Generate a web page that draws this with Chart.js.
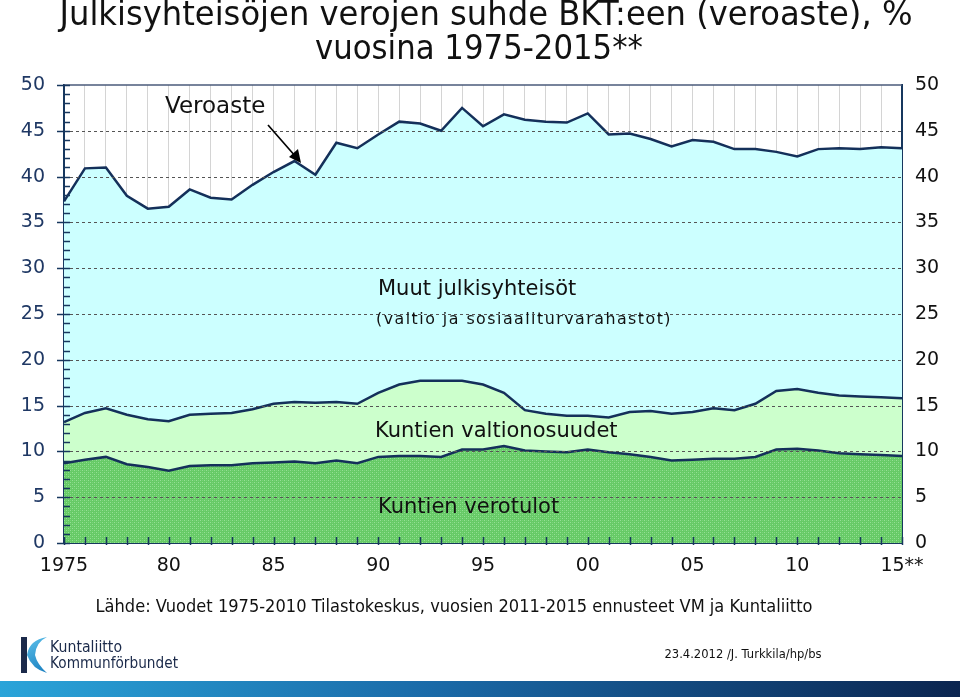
<!DOCTYPE html>
<html>
<head>
<meta charset="utf-8">
<script src="https://cdn.jsdelivr.net/npm/chart.js@4"></script>
<style>
  html, body { margin: 0; padding: 0; background: #fff; }
  #wrap { width: 960px; height: 697px; position: relative; }
</style>
</head>
<body>
<div id="wrap"><canvas id="chart" width="960" height="697"></canvas></div>
<script>
// years 1975-2015, % of GDP
const years = [];
for (let y = 1975; y <= 2015; y++) years.push(String(y));

const xTickLabels = ["1975", "80", "85", "90", "95", "00", "05", "10", "15**"];
const yTickLabels = [0, 5, 10, 15, 20, 25, 30, 35, 40, 45, 50];

// Kuntien verotulot
const verotulot = [8.7, 9.1, 9.4, 8.6, 8.3, 7.9, 8.4, 8.5, 8.5, 8.7,
  8.8, 8.9, 8.7, 9.0, 8.7, 9.4, 9.5, 9.5, 9.4, 10.2,
  10.2, 10.6, 10.1, 10.0, 9.9, 10.2, 9.9, 9.7, 9.4, 9.0,
  9.1, 9.2, 9.2, 9.4, 10.2, 10.3, 10.1, 9.8, 9.7, 9.6, 9.5];

// Kuntien valtionosuudet
const valtionosuudet = [4.5, 5.1, 5.3, 5.4, 5.2, 5.4, 5.6, 5.6, 5.7, 5.9,
  6.4, 6.5, 6.6, 6.4, 6.5, 7.0, 7.8, 8.2, 8.3, 7.5,
  7.1, 5.8, 4.4, 4.1, 4.0, 3.7, 3.8, 4.6, 5.0, 5.1,
  5.2, 5.5, 5.3, 5.8, 6.4, 6.5, 6.3, 6.3, 6.3, 6.3, 6.3];

// Muut julkisyhteisöt (valtio ja sosiaaliturvarahastot)
const muut = [24.1, 26.7, 26.3, 23.9, 23.0, 23.4, 24.6, 23.6, 23.3, 24.5,
  25.3, 26.3, 24.9, 28.3, 27.9, 28.2, 28.7, 28.1, 27.3, 29.8,
  28.2, 30.4, 31.7, 31.9, 32.0, 33.0, 30.9, 30.4, 29.7, 29.2,
  29.7, 29.1, 28.5, 27.8, 26.1, 25.4, 26.6, 27.0, 27.0, 27.3, 27.3];

const NAVY = "#14305a";
const AXIS = "#17375e";
const FONT = "'DejaVu Sans', Verdana, sans-serif";

// dotted texture for the dark green area
function greenPattern() {
  const c = document.createElement("canvas");
  c.width = 4; c.height = 4;
  const g = c.getContext("2d");
  g.fillStyle = "#66ca66";
  g.fillRect(0, 0, 4, 4);
  g.fillStyle = "#95e095";
  g.fillRect(0, 0, 1, 1);
  g.fillRect(2, 2, 1, 1);
  g.fillStyle = "#78d478";
  g.fillRect(2, 0, 1, 1);
  g.fillRect(0, 2, 1, 1);
  return g.createPattern(c, "repeat");
}

const ctx = document.getElementById("chart").getContext("2d");

const decorations = {
  id: "decorations",
  afterDatasetsDraw(chart) {
    const c = chart.ctx;
    const area = chart.chartArea;
    const y = chart.scales.y;
    const x = chart.scales.x;
    c.save();
    // dashed horizontal lines
    c.strokeStyle = "#555";
    c.lineWidth = 1;
    c.setLineDash([3, 3]);
    for (let v = 5; v < 50; v += 5) {
      const py = Math.round(y.getPixelForValue(v)) + 0.5;
      c.beginPath();
      c.moveTo(area.left, py);
      c.lineTo(area.right, py);
      c.stroke();
    }
    c.setLineDash([]);
    // top border
    c.strokeStyle = "#4a5a7a";
    c.lineWidth = 1.5;
    c.beginPath();
    c.moveTo(area.left, area.top);
    c.lineTo(area.right, area.top);
    c.stroke();
    // y ticks
    c.strokeStyle = AXIS;
    c.lineWidth = 1.5;
    for (let v = 0; v <= 50; v++) {
      const py = Math.round(y.getPixelForValue(v)) + 0.5;
      c.beginPath();
      if (v % 5 === 0) {
        c.moveTo(area.left - 7, py);
      } else {
        c.moveTo(area.left, py);
      }
      c.lineTo(area.left + 6, py);
      c.stroke();
    }
    // x ticks
    for (let i = 0; i < years.length; i++) {
      const px = Math.round(x.getPixelForValue(i)) + 0.5;
      c.beginPath();
      c.moveTo(px, area.bottom - 6);
      c.lineTo(px, area.bottom + 2);
      c.stroke();
    }
    c.restore();
  },
  afterDraw(chart) {
    const c = chart.ctx;
    c.save();
    c.fillStyle = "#111";
    c.textBaseline = "middle";
    // title
    c.textAlign = "center";
    c.font = "34px " + FONT;
    c.fillText("Julkisyhteisöjen verojen suhde BKT:een (veroaste), %", 486, 16, 853);
    c.fillText("vuosina 1975-2015**", 479, 50, 328);

    // area labels
    c.textAlign = "left";
    c.font = "23px " + FONT;
    c.fillText("Veroaste", 165, 107, 106);
    c.font = "21px " + FONT;
    c.fillText("Muut julkisyhteisöt", 378, 290, 214);
    c.fillText("Kuntien valtionosuudet", 375, 432, 262);
    c.fillText("Kuntien verotulot", 378, 508, 199);
    c.font = "16px " + FONT;
    c.letterSpacing = "1.5px";
    c.fillText("(valtio ja sosiaaliturvarahastot)", 376, 320, 296);
    c.letterSpacing = "0px";

    // arrow
    c.strokeStyle = "#000";
    c.lineWidth = 1.6;
    c.beginPath();
    c.moveTo(268, 125);
    c.lineTo(296, 157);
    c.stroke();
    c.fillStyle = "#000";
    c.beginPath();
    c.moveTo(301, 163);
    c.lineTo(289, 157);
    c.lineTo(298, 149);
    c.closePath();
    c.fill();

    // source
    c.fillStyle = "#111";
    c.textAlign = "center";
    c.font = "17px " + FONT;
    c.fillText("Lähde: Vuodet 1975-2010 Tilastokeskus, vuosien 2011-2015 ennusteet VM ja Kuntaliitto", 454, 608, 717);
    c.font = "12px " + FONT;
    c.fillText("23.4.2012 /J. Turkkila/hp/bs", 743, 655, 157);

    // logo
    c.fillStyle = "#1b2a4a";
    c.fillRect(21, 637, 6, 36);
    const sw = c.createLinearGradient(27, 637, 46, 673);
    sw.addColorStop(0, "#5cc0ea");
    sw.addColorStop(1, "#1a7fc0");
    c.fillStyle = sw;
    c.beginPath();
    c.moveTo(47, 637);
    c.quadraticCurveTo(29, 640, 27, 655);
    c.quadraticCurveTo(32, 669, 47, 673);
    c.quadraticCurveTo(37, 664, 35, 655);
    c.quadraticCurveTo(36, 642, 47, 637);
    c.fill();
    c.fillStyle = "#1b2a4a";
    c.textAlign = "left";
    c.font = "15px " + FONT;
    c.fillText("Kuntaliitto", 50, 648, 72);
    c.fillText("Kommunförbundet", 50, 664, 128);

    // bottom bar
    const bar = c.createLinearGradient(0, 0, 960, 0);
    bar.addColorStop(0, "#2aa4d9");
    bar.addColorStop(0.45, "#1a6aa8");
    bar.addColorStop(1, "#0b2550");
    c.fillStyle = bar;
    c.fillRect(0, 681, 960, 16);
    c.restore();
  }
};

const chart = new Chart(ctx, {
  type: "line",
  data: {
    labels: years,
    datasets: [{
      label: "Kuntien verotulot",
      data: verotulot,
      borderColor: NAVY,
      backgroundColor: greenPattern(),
      borderWidth: 2.5,
      fill: "origin",
      pointRadius: 0,
      tension: 0
    }, {
      label: "Kuntien valtionosuudet",
      data: valtionosuudet,
      borderColor: NAVY,
      backgroundColor: "#ccffcc",
      borderWidth: 2.5,
      fill: "-1",
      pointRadius: 0,
      tension: 0
    }, {
      label: "Muut julkisyhteisöt",
      data: muut,
      borderColor: NAVY,
      backgroundColor: "#ccffff",
      borderWidth: 2.5,
      fill: "-1",
      pointRadius: 0,
      tension: 0
    }]
  },
  options: {
    responsive: false,
    animation: false,
    layout: { padding: { left: 0, right: 0, top: 85, bottom: 114 } },
    plugins: {
      legend: { display: false },
      tooltip: { enabled: false }
    },
    scales: {
      x: {
        offset: false,
        grid: { color: "#d4d4d4", lineWidth: 1, drawTicks: false, offset: false },
        border: { color: AXIS, width: 2 },
        ticks: {
          autoSkip: false,
          maxRotation: 0,
          padding: 12,
          color: "#111",
          font: { size: 19, family: FONT },
          callback: (v, i) => (i % 5 === 0 ? xTickLabels[i / 5] : "")
        },
        afterFit: (s) => { s.height = 40; }
      },
      y: {
        stacked: true,
        min: 0,
        max: 50,
        grid: { display: false, drawTicks: false },
        border: { color: AXIS, width: 2 },
        ticks: {
          stepSize: 5,
          padding: 19,
          color: "#1f3864",
          font: { size: 19, family: FONT },
          callback: (v) => (yTickLabels.includes(v) ? v : "")
        },
        afterFit: (s) => { s.width = 64; }
      },
      y2: {
        position: "right",
        min: 0,
        max: 50,
        grid: { display: false, drawTicks: false },
        border: { color: AXIS, width: 2 },
        ticks: {
          stepSize: 5,
          padding: 13,
          color: "#111",
          font: { size: 19, family: FONT },
          callback: (v) => (yTickLabels.includes(v) ? v : "")
        },
        afterFit: (s) => { s.width = 58; }
      }
    }
  },
  plugins: [decorations]
});
</script>
</body>
</html>
